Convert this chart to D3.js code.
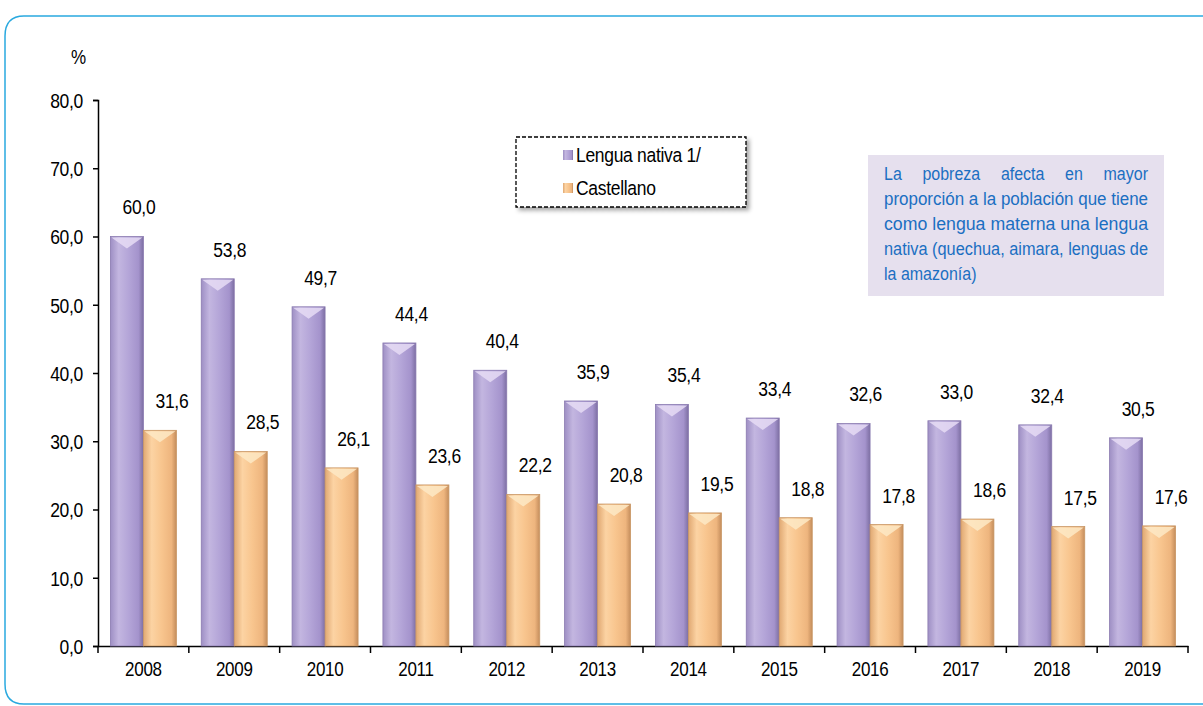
<!DOCTYPE html>
<html>
<head>
<meta charset="utf-8">
<script src="https://cdn.jsdelivr.net/npm/d3@7"></script>
<style>
  body { margin: 0; background: #fff; }
  svg { display: block; font-family: "Liberation Sans", Arial, sans-serif; }
</style>
</head>
<body>
<div id="chart"></div>
<script>
var years = ["2008","2009","2010","2011","2012","2013","2014","2015","2016","2017","2018","2019"];
var nativa = [60.0, 53.8, 49.7, 44.4, 40.4, 35.9, 35.4, 33.4, 32.6, 33.0, 32.4, 30.5];
var castellano = [31.6, 28.5, 26.1, 23.6, 22.2, 20.8, 19.5, 18.8, 17.8, 18.6, 17.5, 17.6];
var seriesNames = ["Lengua nativa 1/", "Castellano"];
var yTicks = [0, 10, 20, 30, 40, 50, 60, 70, 80];
var note = [
  "La pobreza afecta en mayor",
  "proporción a la población que tiene",
  "como lengua materna una lengua",
  "nativa (quechua, aimara, lenguas de",
  "la amazonía)"
];

var width = 1203, height = 706;
var svg = d3.select('#chart').append('svg')
    .attr('width', width).attr('height', height);

// text in the original is a bit taller than wide
var SY = 1.17;
function stretch(sel) {
  sel.each(function() {
    var t = d3.select(this);
    var tx = +t.attr('x') || 0, ty = +t.attr('y') || 0;
    t.attr('transform', 'translate(' + tx + ',' + ty + ') scale(1,' + SY + ') translate(' + (-tx) + ',' + (-ty) + ')');
  });
}

var defs = svg.append('defs');
function barGrad(id, stops) {
  var g = defs.append('linearGradient').attr('id', id)
      .attr('x1', '0%').attr('x2', '100%').attr('y1', '0%').attr('y2', '0%');
  stops.forEach(function(s) {
    g.append('stop').attr('offset', s[0]).attr('stop-color', s[1]);
  });
}
barGrad('gNat', [['0%', '#9e8fc4'], ['25%', '#c3b6e0'], ['55%', '#b4a5d8'], ['85%', '#a493cc'], ['100%', '#7d6fa3']]);
barGrad('gCas', [['0%', '#e0a872'], ['25%', '#fcd3a3'], ['55%', '#f8c58e'], ['85%', '#eeb57e'], ['100%', '#c48d5c']]);
var sh = defs.append('filter').attr('id', 'shadow').attr('x', '-10%').attr('y', '-10%').attr('width', '130%').attr('height', '140%');
sh.append('feDropShadow').attr('dx', 3).attr('dy', 3).attr('stdDeviation', 2).attr('flood-color', '#000').attr('flood-opacity', 0.35);

// outer frame
svg.append('path')
    .attr('d', 'M1210,16 L24,16 Q5,16 5,36 L5,684 Q5,704 24,704 L1210,704')
    .attr('fill', 'none').attr('stroke', '#2aa9df').attr('stroke-width', 1.5);

var x0 = 98, x1 = 1188, yTop = 100, yBot = 646;
var x = d3.scaleBand().domain(years).range([x0, x1]);
var y = d3.scaleLinear().domain([0, 80]).range([yBot, yTop]);
var bw = 33;
var fmt = function(d) { return d3.format('.1f')(d).replace('.', ','); };

// axes
var yAxis = d3.axisLeft(y).tickValues(yTicks).tickSize(5).tickFormat(fmt);
var gy = svg.append('g').attr('transform', 'translate(' + x0 + ',0)').call(yAxis);
gy.select('.domain').attr('stroke', '#000').attr('stroke-width', 1.5);
gy.selectAll('.tick line').attr('stroke-width', 1.5);
gy.selectAll('text').attr('font-size', 17.5).attr('fill', '#000').attr('x', -15).attr('dy', '0.36em').attr('letter-spacing', '-0.3');
stretch(gy.selectAll('text'));

var xAxis = d3.axisBottom(x).tickSize(0).tickSizeOuter(0);
var gx = svg.append('g').attr('transform', 'translate(0,' + yBot + ')').call(xAxis);
gx.select('.domain').attr('stroke', '#000').attr('stroke-width', 1.5);
gx.selectAll('text').attr('font-size', 17).attr('fill', '#000').attr('y', 30).attr('dy', 0).attr('letter-spacing', '-0.3');
stretch(gx.selectAll('text'));
// category tick marks between groups
var sep = years.map(function(d) { return x(d); }).concat([x1]);
gx.selectAll('.sep').data(sep).enter().append('line')
    .attr('x1', function(d) { return d; }).attr('x2', function(d) { return d; })
    .attr('y1', 0).attr('y2', 7).attr('stroke', '#000').attr('stroke-width', 1.5);

var pct = svg.append('text').attr('x', 71).attr('y', 64).attr('font-size', 17).text('%');
stretch(pct);

// bars
function drawBars(vals, off, grad, cap, edge) {
  var g = svg.append('g');
  var gb = g.selectAll('g').data(vals).enter().append('g');
  gb.append('rect')
      .attr('x', function(d, i) { return x(years[i]) + x.bandwidth() / 2 + off; })
      .attr('y', function(d) { return y(d); })
      .attr('width', bw)
      .attr('height', function(d) { return yBot - y(d); })
      .attr('fill', 'url(#' + grad + ')')
      .attr('stroke', edge).attr('stroke-width', 0.8);
  gb.append('path')
      .attr('d', function(d, i) {
        var l = x(years[i]) + x.bandwidth() / 2 + off, t = y(d);
        return 'M' + (l + 1) + ',' + (t + 1) + 'L' + (l + bw - 1) + ',' + (t + 1) +
          'L' + (l + bw / 2) + ',' + (t + 12) + 'Z';
      })
      .attr('fill', cap).attr('opacity', 0.85);
  var lab = gb.append('text')
      .attr('x', function(d, i) { return x(years[i]) + x.bandwidth() / 2 + off + bw / 2 + 12; })
      .attr('y', function(d) { return y(d) - 22; })
      .attr('text-anchor', 'middle').attr('font-size', 17.5).attr('letter-spacing', '-0.3')
      .text(fmt);
  stretch(lab);
}
drawBars(nativa, -bw, 'gNat', '#e6dcf5', '#8a7ab0');
drawBars(castellano, 0, 'gCas', '#fde9c6', '#c99765');

// legend
var lg = svg.append('g');
lg.append('rect').attr('x', 516).attr('y', 137).attr('width', 230).attr('height', 70)
    .attr('fill', '#fff').attr('stroke', '#000').attr('stroke-width', 1.3)
    .attr('stroke-dasharray', '4,2').attr('filter', 'url(#shadow)');
var lcol = ['gNat', 'gCas'];
seriesNames.forEach(function(s, i) {
  var yy = 156 + i * 33;
  lg.append('rect').attr('x', 563).attr('y', yy - 6).attr('width', 10).attr('height', 10)
      .attr('fill', 'url(#' + lcol[i] + ')');
  var t = lg.append('text').attr('x', 576).attr('y', yy + 6).attr('font-size', 17.5)
      .attr('letter-spacing', '-0.3').text(s);
  stretch(t);
});

// note box
var ng = svg.append('g');
ng.append('rect').attr('x', 868).attr('y', 155).attr('width', 296).attr('height', 141).attr('fill', '#e6e0ee');
var nx = 884, nw = 264, fs = 16;
note.forEach(function(line, i) {
  var by = 180 + i * 25;
  var last = i === note.length - 1;
  if (i === 0) {
    // justified line: spread the words over the full width
    var words = line.split(' ');
    var tmp = words.map(function(w) {
      return ng.append('text').attr('font-size', fs).attr('fill', '#1b6fc2').attr('y', by).text(w);
    });
    var ws = tmp.map(function(t) { return t.node().getComputedTextLength(); });
    var gap = (nw - d3.sum(ws)) / (words.length - 1);
    var cx = nx;
    tmp.forEach(function(t, k) { t.attr('x', cx); cx += ws[k] + gap; stretch(t); });
  } else {
    var t = ng.append('text').attr('x', nx).attr('y', by)
        .attr('font-size', fs).attr('fill', '#1b6fc2').text(line);
    if (!last) t.attr('textLength', nw).attr('lengthAdjust', 'spacingAndGlyphs');
    stretch(t);
  }
});
</script>
</body>
</html>
